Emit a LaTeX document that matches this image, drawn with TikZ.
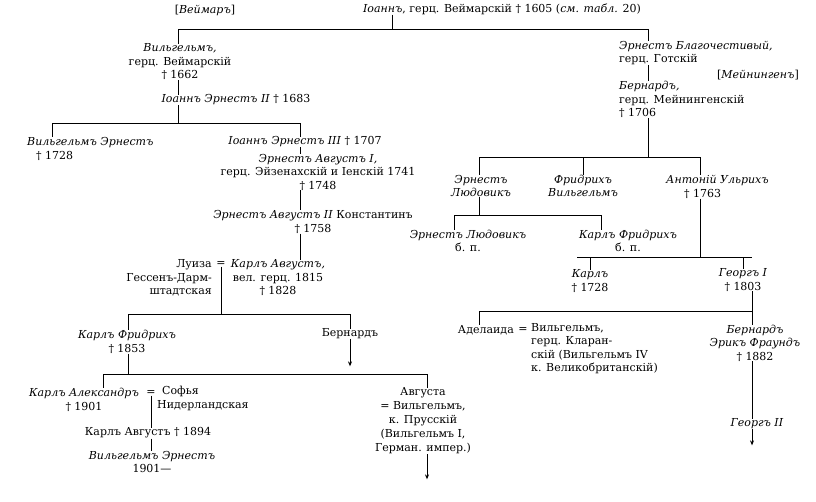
\documentclass[tikz,border=0pt]{standalone}
\usepackage{fontspec}
\setmainfont{DejaVu Serif}
\usetikzlibrary{arrows.meta}

\tikzset{
  person/.style={inner sep=0pt, align=center, font=\fontsize{11}{13.5}\selectfont},
  link/.style={line width=0.9pt},
  down/.style={link, -{Stealth[length=5pt,width=4pt]}},
}

\begin{document}
\begin{tikzpicture}[x=1pt,y=-1pt]
  \useasboundingbox (0,0) rectangle (816,501);
  % bars of the tree
  \coordinate (b1l) at (178,29);  \coordinate (b1m) at (392,29);  \coordinate (b1r) at (648,29);
  \coordinate (b2l) at (52,123);  \coordinate (b2m) at (178,123); \coordinate (b2r) at (300,123);
  \coordinate (b3l) at (128,314); \coordinate (b3m) at (221,314); \coordinate (b3r) at (350,314);
  \coordinate (b4l) at (103,374); \coordinate (b4r) at (427,374);
  \coordinate (b5l) at (479,157); \coordinate (b5m) at (583,157); \coordinate (b5r) at (700,157);
  \coordinate (b6l) at (454,215); \coordinate (b6r) at (601,215);
  \coordinate (b7l) at (577,257); \coordinate (b7a) at (590,257); \coordinate (b7b) at (743,257);
  \coordinate (b7r) at (752,257);
  \coordinate (b8l) at (479,311); \coordinate (b8r) at (752,311);

  % Weimar line
  \node[person] (weimar) at (205,10) {[\textit{Веймаръ}]};
  \node[person] (johann) at (502,9) {\textit{Іоаннъ}, герц. Веймарскій † 1605 (\textit{см. табл.} 20)};
  \node[person] (wilhelm) at (180,62) {\textit{Вильгельмъ,}\\герц. Веймарскій\\† 1662};
  \node[person] (johernst2) at (236,100) {\textit{Іоаннъ Эрнестъ II} † 1683};
  \node[person, align=left, anchor=west] (wilernst) at (27,149) {\textit{Вильгельмъ Эрнестъ}\\\hspace{9pt}† 1728};
  \node[person] (johernst3) at (305,142) {\textit{Іоаннъ Эрнестъ III} † 1707};
  \node[person] (ernaug1) at (318,172) {\textit{Эрнестъ Августъ I,}\\герц. Эйзенахскій и Іенскій 1741\\† 1748};
  \node[person] (ernaug2) at (313,222) {\textit{Эрнестъ Августъ II} Константинъ\\† 1758};
  \node[person, align=right, anchor=east] (luise) at (212,278) {Луиза\\Гессенъ-Дарм-\\штадтская\hspace{9pt}};
  \node[person] (eq1) at (221,264) {=};
  \node[person] (karlaug) at (278,278) {\textit{Карлъ Августъ,}\\вел. герц. 1815\\† 1828};
  \node[person] (karlfr) at (127,342) {\textit{Карлъ Фридрихъ}\\† 1853};
  \node[person] (bernhard1) at (350,334) {Бернардъ};
  \node[person] (karlalex) at (84,400) {\textit{Карлъ Александръ}\\† 1901};
  \node[person] (eq2) at (151,393) {=};
  \node[person, align=left, anchor=north west] (sophie) at (157,386) {\hspace{5pt}Софья\\Нидерландская};
  \node[person] (karlaug2) at (148,433) {Карлъ Августъ † 1894};
  \node[person] (wilernst2) at (152,462) {\textit{Вильгельмъ Эрнестъ}\\1901—};
  \node[person, font=\fontsize{11}{14}\selectfont] (augusta) at (423,421) {Августа\\= Вильгельмъ,\\к. Прусскій\\(Вильгельмъ I,\\Герман. импер.)};

  % Meiningen line
  \node[person, align=left, anchor=north west] (ernfromm) at (619,41) {\textit{Эрнестъ Благочестивый,}\\герц. Готскій};
  \node[person] (meiningen) at (758,75) {[\textit{Мейнингенъ}]};
  \node[person, align=left, anchor=north west] (bernhard2) at (619,81) {\textit{Бернардъ,}\\герц. Мейнингенскій\\† 1706};
  \node[person] (ernludw) at (481,186) {\textit{Эрнестъ}\\\textit{Людовикъ}};
  \node[person] (fritzw) at (583,186) {\textit{Фридрихъ}\\\textit{Вильгельмъ}};
  \node[person, align=left, anchor=west] (anton) at (666,187) {\textit{Антоній Ульрихъ}\\\hspace{18pt}† 1763};
  \node[person] (ernludw2) at (468,241) {\textit{Эрнестъ Людовикъ}\\б. п.};
  \node[person] (karlfr2) at (628,241) {\textit{Карлъ Фридрихъ}\\б. п.};
  \node[person] (karl) at (590,281) {\textit{Карлъ}\\† 1728};
  \node[person] (georg1) at (743,280) {\textit{Георгъ I}\\† 1803};
  \node[person, anchor=east] (adelaide) at (514,330) {Аделаида};
  \node[person] (eq3) at (523,330) {=};
  \node[person, align=left, anchor=north west] (wilhelm4) at (531,323) {Вильгельмъ,\\герц. Кларан-\\скій (Вильгельмъ IV\\к. Великобританскій)};
  \node[person] (bernhard3) at (755,343) {\textit{Бернардъ}\\\textit{Эрикъ Фраундъ}\\† 1882};
  \node[person] (georg2) at (757,424) {\textit{Георгъ II}};

  % connectors
  \draw[link] (b1l) -- (b1r);
  \draw[link] (johann.south -| b1m) -- (b1m);
  \draw[link] (b1l) -- (b1l |- wilhelm.north);
  \draw[link] (b1r) -- (b1r |- ernfromm.north);
  \draw[link] (wilhelm.south -| b1l) -- (johernst2.north -| b1l);
  \draw[link] (johernst2.south -| b2m) -- (b2m);
  \draw[link] (b2l) -- (b2r);
  \draw[link] (b2l) -- (b2l |- wilernst.north);
  \draw[link] (b2r) -- (b2r |- johernst3.north);
  \draw[link] (johernst3.south -| b2r) -- (ernaug1.north -| b2r);
  \draw[link] (ernaug1.south -| b2r) -- (ernaug2.north -| b2r);
  \draw[link] (ernaug2.south -| b2r) -- (karlaug.north -| b2r);
  \draw[link] (eq1.south) -- (b3m);
  \draw[link] (b3l) -- (b3r);
  \draw[link] (b3l) -- (b3l |- karlfr.north);
  \draw[link] (b3r) -- (b3r |- bernhard1.north);
  \draw[down] (bernhard1.south -| b3r) -- ++(0,27);
  \draw[link] (karlfr.south -| b3l) -- (b3l |- b4l);
  \draw[link] (b4l) -- (b4r);
  \draw[link] (b4l) -- (b4l |- karlalex.north);
  \draw[link] (b4r) -- (b4r |- augusta.north);
  \draw[down] (augusta.south -| b4r) -- ++(0,25);
  \draw[link] (eq2.south) -- (karlaug2.north -| eq2);
  \draw[link] (karlaug2.south -| eq2) -- (wilernst2.north -| eq2);

  \draw[link] (ernfromm.south -| b1r) -- (bernhard2.north -| b1r);
  \draw[link] (bernhard2.south -| b1r) -- (b1r |- b5m);
  \draw[link] (b5l) -- (b5r);
  \foreach \c/\b in {ernludw/b5l, fritzw/b5m, anton/b5r}
    \draw[link] (\b) -- (\b |- \c.north);
  \draw[link] (ernludw.south -| b5l) -- (b5l |- b6l);
  \draw[link] (b6l) -- (b6r);
  \draw[link] (b6l) -- (b6l |- ernludw2.north);
  \draw[link] (b6r) -- (b6r |- karlfr2.north);
  \draw[link] (anton.south -| b5r) -- (b5r |- b7l);
  \draw[link] (b7l) -- (b7r);
  \draw[link] (b7a) -- (b7a |- karl.north);
  \draw[link] (b7b) -- (b7b |- georg1.north);
  \draw[link] (georg1.south -| b8r) -- (b8r);
  \draw[link] (b8l) -- (b8r);
  \draw[link] (b8l) -- (b8l |- adelaide.north);
  \draw[link] (b8r) -- (b8r |- bernhard3.north);
  \draw[link] (bernhard3.south -| b8r) -- (georg2.north -| b8r);
  \draw[down] (georg2.south -| b8r) -- ++(0,16);
\end{tikzpicture}
\end{document}
